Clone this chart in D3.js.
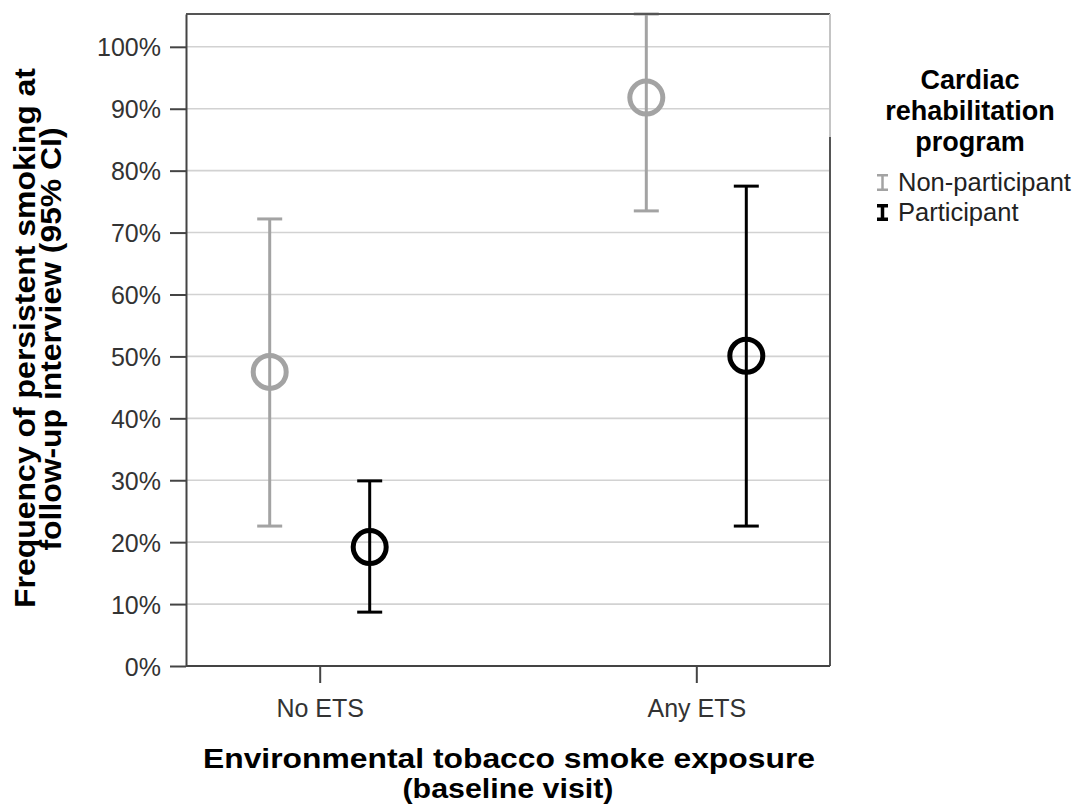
<!DOCTYPE html>
<html lang="en">
<head>
    <meta charset="UTF-8">
    <script src="https://d3js.org/d3.v7.min.js"></script>
    <title>Persistent smoking by ETS exposure</title>
    <style>
        html, body {
            margin: 0;
            padding: 0;
            background: white;
        }
        svg {
            display: block;
            background-color: white;
        }
        text {
            font-family: "Liberation Sans", Arial, sans-serif;
        }
        .tick text {
            font-size: 25px;
            fill: #333;
        }
        .title {
            font-weight: bold;
            font-size: 29px;
            fill: black;
        }
    </style>
</head>
<body>
<script>
    // categories + groups
    const categories = ["No ETS", "Any ETS"];
    const groups = ["Non-participant", "Participant"];

    // mean and 95% CI (percent), one value per category
    const nonMean = [47.5, 91.8];
    const nonLow = [22.6, 73.5];
    const nonHigh = [72.2, 105.3]; // upper bar runs off the top of the frame
    const partMean = [19.2, 50.1];
    const partLow = [8.7, 22.6];
    const partHigh = [29.9, 77.5];

    const yTicks = [0, 10, 20, 30, 40, 50, 60, 70, 80, 90, 100];

    const width = 1083;
    const height = 805;

    const svg = d3.select('body')
        .append('svg')
        .attr('width', width)
        .attr('height', height);

    const margin = { top: 14, right: 253, bottom: 139, left: 186 };

    const x = d3.scalePoint()
        .domain(categories)
        .range([margin.left, width - margin.right])
        .padding(0.355);

    const xGroup = d3.scalePoint()
        .domain(groups)
        .range([-50, 50]);

    const y = d3.scaleLinear()
        .domain([0, 105.3])
        .range([height - margin.bottom, margin.top]);

    const color = d3.scaleOrdinal()
        .domain(groups)
        .range(["#a3a3a3", "#000000"]);

    const rows = [];
    categories.forEach((c, i) => {
        rows.push({ cat: c, group: groups[0], mean: nonMean[i], lo: nonLow[i], hi: nonHigh[i] });
        rows.push({ cat: c, group: groups[1], mean: partMean[i], lo: partLow[i], hi: partHigh[i] });
    });

    const x0 = margin.left, x1 = width - margin.right;
    const yTop = margin.top, yBottom = height - margin.bottom;

    // gridlines
    svg.append('g')
        .selectAll('line')
        .data(yTicks.filter(d => d > 0))
        .join('line')
        .attr('x1', x0)
        .attr('x2', x1)
        .attr('y1', d => y(d))
        .attr('y2', d => y(d))
        .attr('stroke', '#d2d2d2')
        .attr('stroke-width', 1.6);

    // error bars
    const bars = svg.append('g')
        .selectAll('g')
        .data(rows)
        .join('g')
        .attr('transform', d => `translate(${x(d.cat) + xGroup(d.group)},0)`);

    bars.append('line')
        .attr('y1', d => y(d.lo))
        .attr('y2', d => y(d.hi))
        .attr('stroke', d => color(d.group))
        .attr('stroke-width', 3);

    bars.selectAll('.cap')
        .data(d => [d.lo, d.hi].map(v => ({ v, group: d.group })))
        .join('line')
        .attr('class', 'cap')
        .attr('x1', -12.5)
        .attr('x2', 12.5)
        .attr('y1', d => y(d.v))
        .attr('y2', d => y(d.v))
        .attr('stroke', d => color(d.group))
        .attr('stroke-width', 3);

    bars.append('circle')
        .attr('cy', d => y(d.mean))
        .attr('r', 16.5)
        .attr('fill', 'none')
        .attr('stroke', d => color(d.group))
        .attr('stroke-width', 5);

    // frame
    svg.append('line')
        .attr('x1', x0).attr('x2', x1)
        .attr('y1', yTop).attr('y2', yTop)
        .attr('stroke', '#555').attr('stroke-width', 2);
    svg.append('line')
        .attr('x1', x1).attr('x2', x1)
        .attr('y1', yTop).attr('y2', 137)
        .attr('stroke', '#c4c4c4').attr('stroke-width', 2);
    svg.append('line')
        .attr('x1', x1).attr('x2', x1)
        .attr('y1', 137).attr('y2', yBottom)
        .attr('stroke', '#555').attr('stroke-width', 2);

    // y axis
    const yAxis = svg.append('g')
        .attr('transform', `translate(${x0},0)`)
        .call(d3.axisLeft(y)
            .tickValues(yTicks)
            .tickFormat(d => d + '%')
            .tickSize(16)
            .tickSizeOuter(0)
            .tickPadding(9));
    yAxis.selectAll('path, line').attr('stroke', '#444').attr('stroke-width', 2);
    yAxis.selectAll('text').attr('dy', '0.36em');

    // x axis
    const xAxis = svg.append('g')
        .attr('transform', `translate(0,${yBottom})`)
        .call(d3.axisBottom(x)
            .tickSize(17)
            .tickSizeOuter(0));
    xAxis.select('.domain').attr('d', `M${x0},0H${x1}`);
    xAxis.selectAll('path, line').attr('stroke', '#444').attr('stroke-width', 2);
    xAxis.selectAll('text').attr('y', 51).attr('dy', 0);

    // axis titles (stretched to the widths in the original)
    svg.append('text')
        .attr('class', 'title')
        .style('font-size', '27px')
        .attr('text-anchor', 'middle')
        .attr('x', (x0 + x1) / 2 + 1)
        .attr('y', 768)
        .attr('textLength', 612)
        .attr('lengthAdjust', 'spacingAndGlyphs')
        .text('Environmental tobacco smoke exposure');
    svg.append('text')
        .attr('class', 'title')
        .style('font-size', '27px')
        .attr('text-anchor', 'middle')
        .attr('x', (x0 + x1) / 2)
        .attr('y', 798)
        .attr('textLength', 211)
        .attr('lengthAdjust', 'spacingAndGlyphs')
        .text('(baseline visit)');

    const yTitle = svg.append('g')
        .attr('transform', `translate(0,${(yTop + yBottom) / 2}) rotate(-90)`);
    yTitle.append('text')
        .attr('class', 'title')
        .attr('text-anchor', 'middle')
        .attr('x', 2)
        .attr('y', 35)
        .attr('textLength', 540)
        .attr('lengthAdjust', 'spacingAndGlyphs')
        .text('Frequency of persistent smoking at');
    yTitle.append('text')
        .attr('class', 'title')
        .attr('text-anchor', 'middle')
        .attr('x', 1)
        .attr('y', 61)
        .attr('textLength', 423)
        .attr('lengthAdjust', 'spacingAndGlyphs')
        .text('follow-up interview (95% CI)');

    // legend
    const legend = svg.append('g');
    ['Cardiac', 'rehabilitation', 'program'].forEach((t, i) => {
        legend.append('text')
            .attr('x', 970)
            .attr('y', 89 + i * 31)
            .attr('text-anchor', 'middle')
            .style('font-weight', 'bold')
            .style('font-size', '27px')
            .text(t);
    });

    groups.forEach((g, i) => {
        const base = 191 + i * 30;
        const sw = i === 0 ? 2.5 : 3.5;
        const item = legend.append('g')
            .attr('transform', `translate(882.5,${base})`);
        item.append('line')
            .attr('y1', -17).attr('y2', 0)
            .attr('stroke', color(g)).attr('stroke-width', sw);
        [-17, 0].forEach(v => {
            item.append('line')
                .attr('x1', -5.5).attr('x2', 5.5)
                .attr('y1', v + (v < 0 ? sw / 2 : -sw / 2))
                .attr('y2', v + (v < 0 ? sw / 2 : -sw / 2))
                .attr('stroke', color(g)).attr('stroke-width', sw);
        });
        legend.append('text')
            .attr('x', 898)
            .attr('y', base)
            .style('font-size', '25.5px')
            .attr('fill', '#222')
            .text(g);
    });
</script>
</body>
</html>
